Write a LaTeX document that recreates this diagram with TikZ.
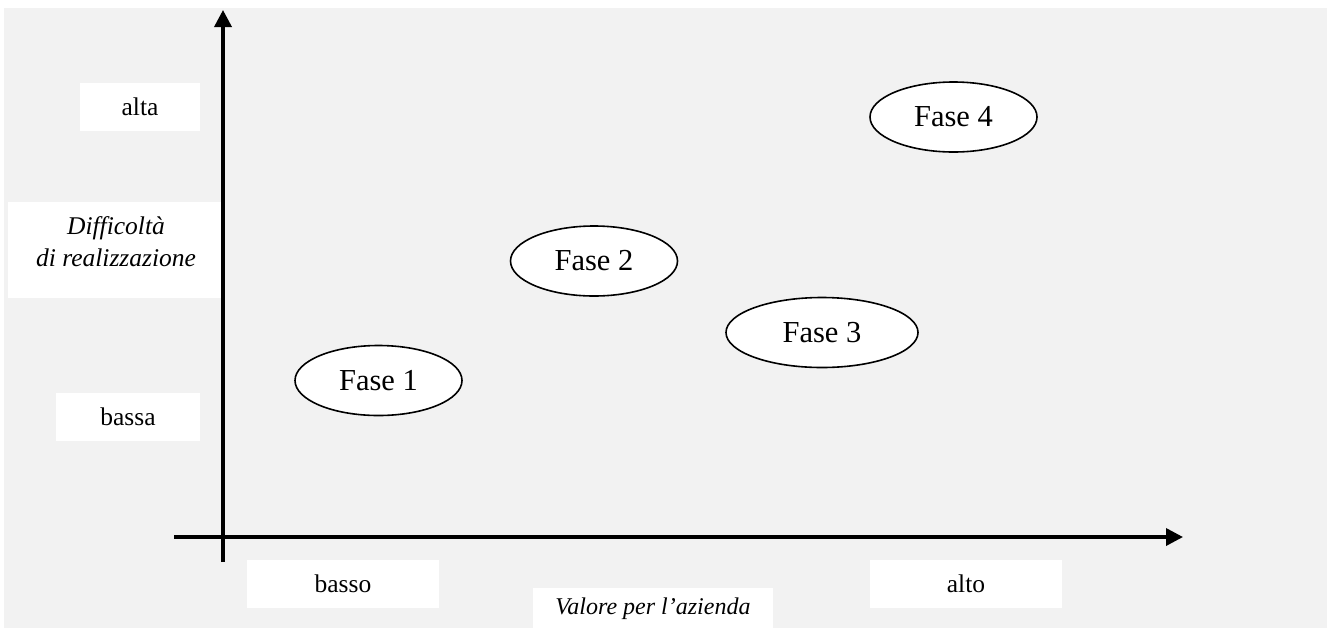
\documentclass[tikz,border=0pt]{standalone}
\usepackage{fontspec}
\setmainfont{Liberation Serif}
\usetikzlibrary{shapes.geometric}
\usetikzlibrary {arrows.meta}
\definecolor{sfondo}{HTML}{F2F2F2}
\tikzset{fase/.style={ellipse,draw=black,fill=white,line width=1.6pt,
inner sep=0pt,minimum width=167pt, minimum height=70pt,font=\fontsize{30.5}{34}\selectfont}}
\tikzset{etichetta/.style={rectangle,draw=none,fill=white,
inner sep=0pt,minimum height=48pt,font=\fontsize{25.5}{32}\selectfont}}
\tikzset{etichettait/.style={etichetta,font=\fontsize{25.5}{32}\selectfont\itshape}}
\tikzset{asse/.style={line width=3.5pt,-{Triangle[length=17pt,width=17pt]}}}

\begin{document}
\begin{tikzpicture}[x=1pt,y=-1pt]
        \useasboundingbox (0,0) rectangle (1329,630);
        \fill[sfondo] (4,8) rectangle (1327,628);

        \node[etichetta, minimum width=120pt] (alta) at (140,106.5) {alta};
        \node[etichetta, minimum width=144pt] (bassa) at (128,417) {bassa};
        \node[etichettait, minimum width=216pt, minimum height=96pt, align=center, text depth=16pt] (difficolta) at (116,250) {Difficoltà\\di realizzazione};

        \node[etichetta, minimum width=192pt] (basso) at (343,584) {basso};
        \node[etichetta, minimum width=192pt] (alto) at (966,584) {alto};
        \node[etichettait, minimum width=240pt, minimum height=42pt, font=\fontsize{24}{28}\selectfont\itshape] (valore) at (653,609) {Valore per l’azienda};

        \coordinate (yfoot) at (223,562);
        \coordinate (ytip) at (223,10);
        \coordinate (xfoot) at (174,537);
        \coordinate (xtip) at (1183,537);
        \draw[asse] (yfoot) -- (ytip);
        \draw[asse] (xfoot) -- (xtip);

        \node[fase] (fase1) at (378.5,380.5) {Fase 1};
        \node[fase] (fase2) at (594,261) {Fase 2};
        \node[fase, minimum width=192pt] (fase3) at (822,332.5) {Fase 3};
        \node[fase] (fase4) at (953.5,117) {Fase 4};

    \end{tikzpicture}
\end{document}
